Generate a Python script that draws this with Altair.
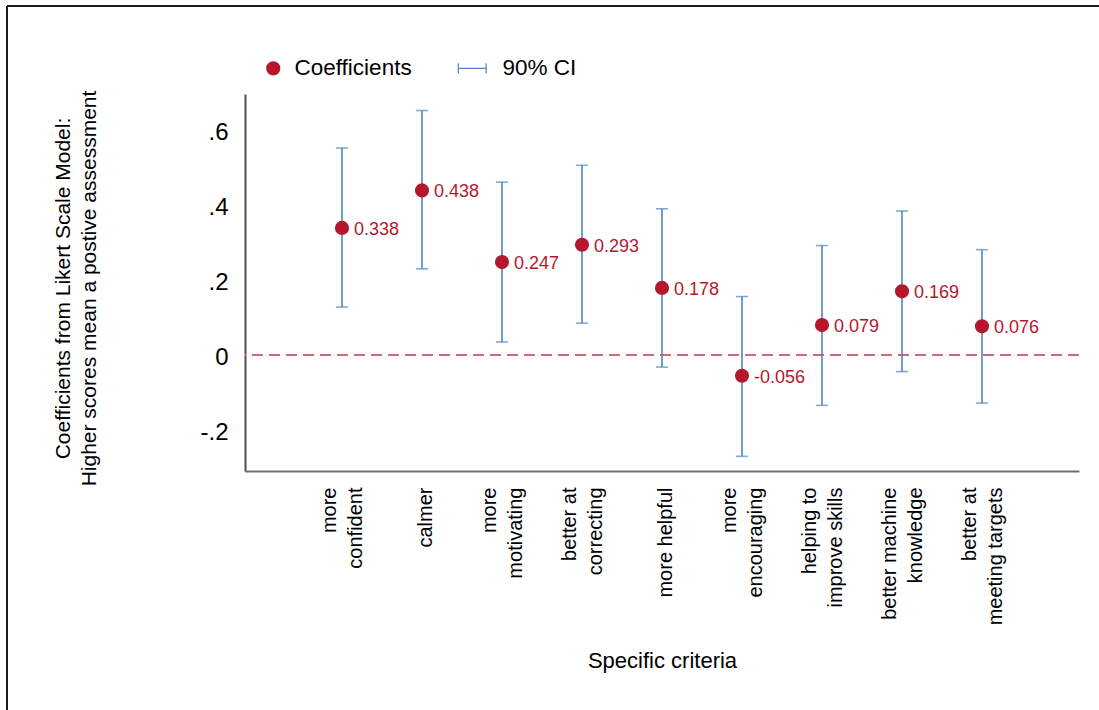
import json

import altair as alt
import pandas as pd

# Criteria (line breaks marked with "|"), point estimates and 90% CI bounds
criteria = [
    "more|confident",
    "calmer",
    "more|motivating",
    "better at|correcting",
    "more helpful",
    "more|encouraging",
    "helping to|improve skills",
    "better machine|knowledge",
    "better at|meeting targets",
]
position = [1, 2, 3, 4, 5, 6, 7, 8, 9]
coef = [0.338, 0.438, 0.247, 0.293, 0.178, -0.056, 0.079, 0.169, 0.076]
ci_low = [0.127, 0.229, 0.034, 0.084, -0.033, -0.271, -0.135, -0.045, -0.129]
ci_high = [0.551, 0.651, 0.460, 0.505, 0.389, 0.155, 0.291, 0.383, 0.280]
y_ticks = [-0.2, 0, 0.2, 0.4, 0.6]
series = ["Coefficients", "90% CI"]

RED = "#b5172c"
BLUE = "#4f86c0"
FONT = "Liberation Sans"

df = pd.DataFrame({
    "pos": position,
    "criterion": criteria,
    "coef": coef,
    "lo": ci_low,
    "hi": ci_high,
    "series": "Coefficients",
})

# horizontal I-bar glyph for the CI legend entry (drawn left of the symbol centre)
ci_glyph = (
    "M-3.32,-0.08 L0.78,-0.08 L0.78,0.08 L-3.32,0.08 Z "
    "M-3.32,-0.72 L-3.15,-0.72 L-3.15,0.72 L-3.32,0.72 Z "
    "M0.61,-0.72 L0.78,-0.72 L0.78,0.72 L0.61,0.72 Z"
)

label_lookup = json.dumps(criteria) + "[datum.value - 1]"

x_enc = alt.X(
    "pos:Q",
    scale=alt.Scale(domain=[-0.2125, 10.2125], nice=False, zero=False),
    axis=alt.Axis(
        title="Specific criteria",
        values=position,
        labelExpr="split(" + label_lookup + ", '|')",
        labelAngle=270,
        labelAlign="right",
        labelBaseline="middle",
        labelPadding=16,
        # two-line labels are centred as a block on their position
        labelOffset={
            "condition": {"test": "indexof(" + label_lookup + ", '|') >= 0", "value": -13},
            "value": 3,
        },
        labelFontSize=20,
        labelLineHeight=26,
        labelColor="black",
        labelOverlap=False,
        labelFlush=False,
        labelLimit=0,
        ticks=False,
        tickSize=0,
        domainColor="#707070",
        domainWidth=2,
        titleFontSize=22,
        titleFontWeight="normal",
        titleColor="black",
        titleY=189,
        titleBaseline="middle",
        grid=False,
    ),
)

y_scale = alt.Scale(domain=[-0.31, 0.695], nice=False, zero=False)
y_axis = alt.Axis(
    values=y_ticks,
    labelExpr="datum.value == 0 ? '0' : (datum.value < 0 ? '-' : '') + replace(format(abs(datum.value), '.1f'), '0.', '.')",
    labelFontSize=24,
    labelColor="black",
    labelPadding=17,
    labelOffset=3,
    ticks=False,
    tickSize=0,
    grid=False,
    domainColor="#505050",
    domainWidth=2,
    title=["Coefficients from Likert Scale Model:", "Higher scores mean a postive assessment"],
    titleFontSize=21,
    titleFontWeight="normal",
    titleColor="black",
    titleAngle=270,
    titleX=-182,
    titleY=194,
    titleAlign="center",
    titleBaseline="middle",
    titleLineHeight=26,
)

base = alt.Chart(df)

zero_line = base.mark_rule(color="#d06a72", strokeWidth=1.5, strokeDash=[11, 6]).encode(
    y=alt.datum(0, scale=y_scale)
)

ci_rules = base.mark_rule(color=BLUE, strokeWidth=1.6).encode(
    x=x_enc,
    y=alt.Y("lo:Q", scale=y_scale, axis=y_axis),
    y2="hi:Q",
)

ci_low_caps = base.mark_tick(color=BLUE, size=12, thickness=1.6, orient="horizontal").encode(
    x=x_enc, y=alt.Y("lo:Q", scale=y_scale)
)
ci_high_caps = base.mark_tick(color=BLUE, size=12, thickness=1.6, orient="horizontal").encode(
    x=x_enc, y=alt.Y("hi:Q", scale=y_scale)
)

legend = alt.Legend(
    title=None,
    orient="none",
    legendX=17,
    legendY=-37,
    direction="horizontal",
    labelFontSize=22.5,
    labelColor="black",
    labelFont=FONT,
    symbolSize=200,
    symbolStrokeWidth=0,
    labelOffset=10,
    columnPadding=45,
)

points = base.mark_point(filled=True, opacity=1, size=200).encode(
    x=x_enc,
    y=alt.Y("coef:Q", scale=y_scale),
    color=alt.Color("series:N", scale=alt.Scale(domain=series, range=[RED, BLUE]), legend=legend),
    shape=alt.Shape("series:N", scale=alt.Scale(domain=series, range=["circle", ci_glyph]), legend=legend),
)

labels = base.transform_calculate(
    label="(datum.coef < 0 ? '-' : '') + format(abs(datum.coef), '.3f')"
).mark_text(align="left", baseline="middle", dx=12, dy=2, fontSize=18, color=RED, font=FONT).encode(
    x=x_enc,
    y=alt.Y("coef:Q", scale=y_scale),
    text="label:N",
)

# outer frame of the figure
frame_df = pd.DataFrame({"k": [0]})
frame_top = alt.Chart(frame_df).mark_rule(color="#1a1a1a", strokeWidth=2).encode(
    x=alt.value(-238), x2=alt.value(860), y=alt.value(-88), y2=alt.value(-88)
)
frame_left = alt.Chart(frame_df).mark_rule(color="#1a1a1a", strokeWidth=2).encode(
    x=alt.value(-238), x2=alt.value(-238), y=alt.value(-88), y2=alt.value(620)
)

chart = alt.layer(
    zero_line, ci_rules, ci_low_caps, ci_high_caps, points, labels, frame_top, frame_left
).properties(
    width=834,
    height=377,
    autosize=alt.AutoSizeParams(type="none"),
    padding={"left": 245, "top": 94, "right": 20, "bottom": 239},
    background="white",
).configure(
    font=FONT
).configure_view(
    stroke=None
)

chart.save("out.html", embed_options={"renderer": "svg", "actions": False})
